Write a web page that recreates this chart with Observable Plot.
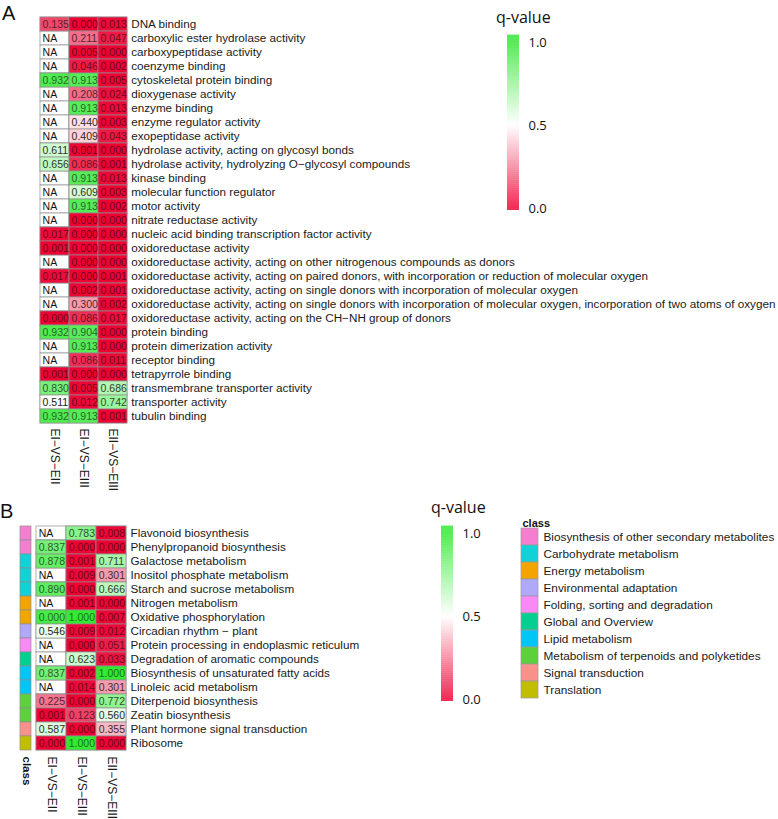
<!DOCTYPE html>
<html><head><meta charset="utf-8">
<script src="https://cdn.jsdelivr.net/npm/d3@7"></script>
<script src="https://cdn.jsdelivr.net/npm/@observablehq/plot@0.6"></script>
<style>
html,body{margin:0;padding:0;background:#fff;}
#root{position:relative;width:778px;height:819px;overflow:hidden;font-family:"Liberation Sans",Arial,sans-serif;color:#1a1a1a;}
#root > *{position:absolute;}
#root svg{overflow:visible;background:transparent;}
.panel{font-family:"Liberation Sans",Arial,sans-serif;font-size:20px;line-height:20px;color:#111;}
.qt{font-family:"Open Sans",sans-serif;font-size:16px;line-height:16px;color:#111;white-space:nowrap;}
</style></head><body><div id="root"></div>
<script>
// ---------------- data ----------------
const comparisons = ["EI−VS−EII", "EI−VS−EIII", "EII−VS−EIII"];

const goTerms = [
  "DNA binding",
  "carboxylic ester hydrolase activity",
  "carboxypeptidase activity",
  "coenzyme binding",
  "cytoskeletal protein binding",
  "dioxygenase activity",
  "enzyme binding",
  "enzyme regulator activity",
  "exopeptidase activity",
  "hydrolase activity, acting on glycosyl bonds",
  "hydrolase activity, hydrolyzing O−glycosyl compounds",
  "kinase binding",
  "molecular function regulator",
  "motor activity",
  "nitrate reductase activity",
  "nucleic acid binding transcription factor activity",
  "oxidoreductase activity",
  "oxidoreductase activity, acting on other nitrogenous compounds as donors",
  "oxidoreductase activity, acting on paired donors, with incorporation or reduction of molecular oxygen",
  "oxidoreductase activity, acting on single donors with incorporation of molecular oxygen",
  "oxidoreductase activity, acting on single donors with incorporation of molecular oxygen, incorporation of two atoms of oxygen",
  "oxidoreductase activity, acting on the CH−NH group of donors",
  "protein binding",
  "protein dimerization activity",
  "receptor binding",
  "tetrapyrrole binding",
  "transmembrane transporter activity",
  "transporter activity",
  "tubulin binding"
];
const goEIvsEII   = [0.135, null, null, null, 0.932, null, null, null, null, 0.611, 0.656, null, null, null, null, 0.017, 0.001, null, 0.017, null, null, 0.000, 0.932, null, null, 0.001, 0.830, 0.511, 0.932];
const goEIvsEIII  = [0.000, 0.211, 0.005, 0.046, 0.913, 0.208, 0.913, 0.440, 0.409, 0.001, 0.086, 0.913, 0.609, 0.913, 0.000, 0.000, 0.000, 0.000, 0.000, 0.002, 0.300, 0.086, 0.904, 0.913, 0.086, 0.000, 0.005, 0.012, 0.913];
const goEIIvsEIII = [0.013, 0.047, 0.000, 0.002, 0.005, 0.024, 0.013, 0.003, 0.043, 0.000, 0.001, 0.013, 0.003, 0.002, 0.000, 0.000, 0.000, 0.000, 0.001, 0.001, 0.002, 0.017, 0.000, 0.000, 0.011, 0.000, 0.686, 0.742, 0.001];

const pathways = [
  "Flavonoid biosynthesis",
  "Phenylpropanoid biosynthesis",
  "Galactose metabolism",
  "Inositol phosphate metabolism",
  "Starch and sucrose metabolism",
  "Nitrogen metabolism",
  "Oxidative phosphorylation",
  "Circadian rhythm − plant",
  "Protein processing in endoplasmic reticulum",
  "Degradation of aromatic compounds",
  "Biosynthesis of unsaturated fatty acids",
  "Linoleic acid metabolism",
  "Diterpenoid biosynthesis",
  "Zeatin biosynthesis",
  "Plant hormone signal transduction",
  "Ribosome"
];
const pathwayClass = [
  "Biosynthesis of other secondary metabolites",
  "Biosynthesis of other secondary metabolites",
  "Carbohydrate metabolism",
  "Carbohydrate metabolism",
  "Carbohydrate metabolism",
  "Energy metabolism",
  "Energy metabolism",
  "Environmental adaptation",
  "Folding, sorting and degradation",
  "Global and Overview",
  "Lipid metabolism",
  "Lipid metabolism",
  "Metabolism of terpenoids and polyketides",
  "Metabolism of terpenoids and polyketides",
  "Signal transduction",
  "Translation"
];
const kgEIvsEII   = [null, 0.837, 0.878, null, 0.890, null, 0.000, 0.546, null, null, 0.837, null, 0.225, 0.001, 0.587, 0.000];
const kgEIvsEIII  = [0.783, 0.000, 0.001, 0.009, 0.000, 0.001, 1.000, 0.009, 0.000, 0.623, 0.002, 0.014, 0.000, 0.123, 0.000, 1.000];
const kgEIIvsEIII = [0.008, 0.000, 0.711, 0.301, 0.666, 0.000, 0.007, 0.012, 0.051, 0.033, 1.000, 0.301, 0.772, 0.560, 0.355, 0.000];
// cell whose colour in the picture does not follow its printed value
const colorOverrides = [{row: "Oxidative phosphorylation", col: "EI−VS−EII", q: 0.95}];

const classNames = [
  "Biosynthesis of other secondary metabolites",
  "Carbohydrate metabolism",
  "Energy metabolism",
  "Environmental adaptation",
  "Folding, sorting and degradation",
  "Global and Overview",
  "Lipid metabolism",
  "Metabolism of terpenoids and polyketides",
  "Signal transduction",
  "Translation"
];
const classColors = ["#F47FD0", "#12D2D8", "#F2A500", "#B0A9FA", "#F98AF5", "#05CF90", "#00C6F8", "#5CD13C", "#F8918A", "#C1BE02"];
const qTicks = [0, 0.5, 1];

// ---------------- styling ----------------
const FONT = "'Liberation Sans', Arial, sans-serif";
const RED = "#EC0334", GREEN = "#34E834", GRID = "#8f8f8f";
const qColor = {type: "linear", domain: [0, 0.5, 1], range: [RED, "#ffffff", GREEN], interpolate: "rgb", clamp: true};
const qScale = Plot.scale({color: qColor});

function textColor(q) {
  if (q == null) return "#111";
  const w = 1 - Math.min(1, Math.abs(q - 0.5) * 2);
  return d3.interpolateRgb(qScale.apply(q), "#000")(0.5 + 0.38 * w);
}

function buildCells(rows, series) {
  const cells = [];
  rows.forEach((r, i) => comparisons.forEach((c, j) => {
    const q = series[j][i];
    const ov = colorOverrides.find(o => o.row === r && o.col === c);
    const qc = q == null ? null : (ov ? ov.q : q);
    cells.push({row: r, col: c, q, qc, label: q == null ? "NA" : q.toFixed(3), tc: textColor(qc)});
  }));
  return cells;
}

function heatmap({rows, series, width, height, mL, mR, mT, mB, dxText, tickPad}) {
  const cells = buildCells(rows, series);
  return Plot.plot({
    width, height, marginLeft: mL, marginRight: mR, marginTop: mT, marginBottom: mB,
    x: {domain: comparisons, padding: 0, axis: null},
    y: {domain: rows, padding: 0},
    color: qColor,
    style: {fontFamily: FONT, fontSize: "11px", color: "#1a1a1a", background: "transparent"},
    marks: [
      Plot.cell(cells, {x: "col", y: "row", fill: "white", stroke: GRID, strokeWidth: 0.7}),
      Plot.cell(cells.filter(d => d.qc != null), {x: "col", y: "row", fill: "qc", stroke: GRID, strokeWidth: 0.7}),
      Plot.text(cells, {x: "col", y: "row", text: "label", textAnchor: "start", dx: dxText, fontSize: 10.5, fill: d => d.tc}),
      Plot.axisY({anchor: "right", tickSize: 0, tickPadding: tickPad, fontSize: 11.7, label: null}),
      Plot.text(comparisons, {x: d => d, frameAnchor: "bottom", rotate: 90, textAnchor: "start", lineAnchor: "middle", dy: 3, fontSize: 12})
    ]
  });
}

function colorbar({y0, y1}) {
  // y0: pixel of q = 0, y1: pixel of q = 1 (inside this svg)
  const steps = d3.range(-0.012, 1.042, 0.004).map(v => ({lo: v, hi: v + 0.0045, mid: v + 0.002}));
  return Plot.plot({
    width: 70, height: 230, margin: 0,
    x: {domain: [0, 1], range: [17, 29], axis: null},
    y: {domain: [0, 1], range: [y0, y1], axis: null},
    color: qColor,
    style: {background: "transparent"},
    marks: [
      Plot.rect(steps, {x1: 0, x2: 1, y1: "lo", y2: "hi", fill: "mid"}),
      Plot.text(qTicks, {x: 1, y: d => d, text: d => d.toFixed(1), textAnchor: "start", dx: 9, fontSize: 13, fontFamily: "'Open Sans', sans-serif", fill: "#111"})
    ]
  });
}

const root = document.getElementById("root");
function place(el, left, top) { el.style.left = left + "px"; el.style.top = top + "px"; root.appendChild(el); return el; }
function label(text, cls, left, top) { const d = document.createElement("div"); d.className = cls; d.textContent = text; return place(d, left, top); }

// Panel A
place(heatmap({rows: goTerms, series: [goEIvsEII, goEIvsEIII, goEIIvsEIII], width: 778, height: 495,
  mL: 38.3, mR: 778 - 127.7, mT: 15, mB: 495 - 425, dxText: -12.4, tickPad: 3}), 0, 0);
place(colorbar({y0: 208, y1: 42}), 490, 0);
label("q-value", "qt", 496, 9);
label("A", "panel", 2, 3);

// Panel B
place(heatmap({rows: pathways, series: [kgEIvsEII, kgEIvsEIII, kgEIIvsEIII], width: 778, height: 324,
  mL: 35, mR: 778 - 126, mT: 27, mB: 324 - 258, dxText: -12.8, tickPad: 4}), 0, 495);

const strip = pathways.map((p, i) => ({row: p, cls: pathwayClass[i]}));
place(Plot.plot({
  width: 40, height: 324, marginLeft: 20, marginRight: 40 - 31.7, marginTop: 27, marginBottom: 324 - 258,
  x: {domain: ["class"], padding: 0, axis: null},
  y: {domain: pathways, padding: 0, axis: null},
  color: {domain: classNames, range: classColors},
  style: {fontFamily: FONT, background: "transparent", color: "#111"},
  marks: [
    Plot.cell(strip, {x: () => "class", y: "row", fill: "cls", stroke: GRID, strokeWidth: 0.7}),
    Plot.text(["class"], {frameAnchor: "bottom", rotate: 90, textAnchor: "start", lineAnchor: "middle", dy: 3, fontSize: 11.5, fontWeight: "bold"})
  ]
}), 0, 495);

place(colorbar({y0: 204, y1: 38}), 424, 495);
label("q-value", "qt", 431, 499);
label("B", "panel", 0, 501);

// class legend
const legendRows = classNames.map((c, i) => ({name: c, color: classColors[i]}));
place(Plot.plot({
  width: 278, height: 210, marginLeft: 21, marginRight: 240, marginTop: 27, marginBottom: 11,
  x: {domain: ["sw"], padding: 0, axis: null},
  y: {domain: classNames, padding: 0},
  style: {fontFamily: FONT, background: "transparent", color: "#1a1a1a"},
  marks: [
    Plot.cell(legendRows, {x: () => "sw", y: "name", fill: "color", stroke: "#9a9a9a", strokeWidth: 0.7}),
    Plot.axisY({anchor: "right", tickSize: 0, tickPadding: 5, fontSize: 11.8, label: null}),
    Plot.text(["class"], {frameAnchor: "top-left", dx: 1, dy: -8, textAnchor: "start", fontSize: 11, fontWeight: "bold", fill: "#111"})
  ]
}), 500, 500);
</script>
</body></html>
